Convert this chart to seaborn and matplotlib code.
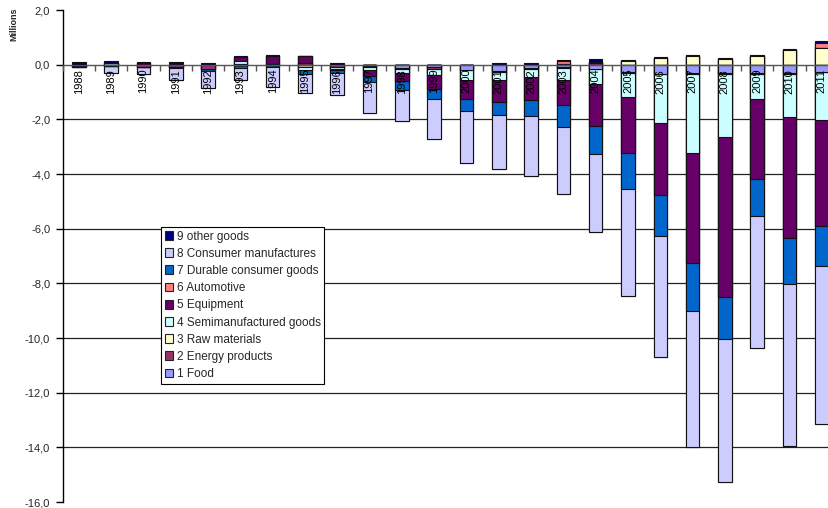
import numpy as np
import matplotlib
matplotlib.use("Agg")
import matplotlib.pyplot as plt
from matplotlib.patches import Patch
import seaborn as sns

years = [str(y) for y in range(1988, 2012)]

# Trade balance by product group, millions
food = [0.00, -0.03, -0.02, -0.02, -0.02, -0.02, -0.02, -0.03, -0.03, -0.05, -0.13, -0.10,
        -0.18, -0.22, -0.12, -0.10, -0.15, -0.27, -0.33, -0.32, -0.32, -0.32, -0.32, -0.25]
energy = [-0.05, -0.02, -0.08, -0.07, -0.15, 0.03, 0.02, 0.07, -0.05, -0.03, -0.04, -0.04,
          -0.03, -0.03, -0.03, -0.03, 0.05, -0.02, -0.02, -0.02, -0.02, -0.02, -0.02, -0.02]
raw_materials = [0.00, 0.00, 0.00, 0.00, 0.00, 0.01, 0.00, -0.05, 0.00, 0.00, 0.00, 0.00,
                 0.00, 0.00, 0.00, 0.02, 0.03, 0.15, 0.23, 0.30, 0.22, 0.32, 0.52, 0.60]
semimanufactured = [0.00, 0.05, 0.00, 0.00, 0.00, 0.10, 0.00, -0.12, -0.08, -0.12, -0.14, -0.25,
                    -0.36, -0.31, -0.30, -0.43, -0.55, -0.88, -1.80, -2.90, -2.32, -0.90, -1.56, -1.75]
equipment = [-0.05, 0.00, 0.05, 0.00, 0.00, 0.14, 0.30, 0.25, -0.05, -0.20, -0.30, -0.50,
             -0.70, -0.79, -0.85, -0.91, -1.53, -2.07, -2.62, -4.03, -5.85, -2.96, -4.43, -3.87]
automotive = [0.00, 0.00, 0.00, 0.00, 0.00, 0.00, 0.00, 0.00, 0.00, 0.00, 0.00, 0.00,
              0.00, 0.00, 0.00, 0.10, 0.00, 0.00, 0.00, 0.00, 0.00, 0.00, 0.00, 0.18]
durable = [0.00, 0.00, 0.00, -0.02, -0.07, -0.10, -0.08, -0.15, -0.10, -0.25, -0.30, -0.37,
           -0.41, -0.49, -0.58, -0.80, -1.03, -1.31, -1.50, -1.73, -1.54, -1.35, -1.71, -1.46]
consumer = [0.00, -0.24, -0.23, -0.44, -0.63, -0.44, -0.73, -0.68, -0.79, -1.10, -1.15, -1.46,
            -1.92, -1.99, -2.18, -2.45, -2.87, -3.90, -4.41, -5.00, -5.22, -4.80, -5.90, -5.80]
other = [0.09, 0.08, 0.05, 0.11, 0.07, 0.02, 0.02, 0.00, 0.05, 0.00, 0.00, 0.00,
         0.00, 0.07, 0.07, 0.06, 0.12, 0.03, 0.04, 0.04, 0.04, 0.03, 0.07, 0.10]

series_names = ["1 Food", "2 Energy products", "3 Raw materials", "4 Semimanufactured goods",
                "5 Equipment", "6 Automotive", "7 Durable consumer goods",
                "8 Consumer manufactures", "9 other goods"]
series_colors = ["#9999FF", "#993366", "#FFFFCC", "#CCFFFF", "#660066",
                 "#FF8080", "#0066CC", "#CCCCFF", "#000080"]
y_ticks = [2, 0, -2, -4, -6, -8, -10, -12, -14, -16]

sns.set_theme(style="white")
plt.rcParams["font.family"] = ["Liberation Sans", "DejaVu Sans"]

fig = plt.figure(figsize=(8.29, 5.08), dpi=100)
ax = fig.add_axes([0.0756, 0.0118, 0.9352, 0.9685])

values = np.array([food, energy, raw_materials, semimanufactured, equipment,
                   automotive, durable, consumer, other])
pos_cum = np.clip(values, 0, None).cumsum(axis=0)
neg_cum = np.clip(values, None, 0).cumsum(axis=0)

# Stacks are built by overdrawing cumulative totals, outermost layer first
for k in reversed(range(len(series_names))):
    for cum in (pos_cum[k], neg_cum[k]):
        sns.barplot(x=years, y=cum, order=years, color=series_colors[k], saturation=1,
                    width=0.42, edgecolor="#111111", linewidth=0.8, errorbar=None, ax=ax,
                    zorder=2)

# Horizontal gridlines behind the bars
for v in y_ticks:
    if v not in (0, 2, -16):
        ax.axhline(v, color="#222222", linewidth=0.9, zorder=0)

ax.set_axisbelow(False)
ax.set_xlim(-0.5, len(years) - 0.5)
ax.set_ylim(-16, 2)

for side in ("top", "right"):
    ax.spines[side].set_visible(False)
ax.spines["left"].set_color("black")
ax.spines["left"].set_linewidth(1.0)
ax.spines["bottom"].set_position(("data", 0))
ax.spines["bottom"].set_color("#555555")
ax.spines["bottom"].set_linewidth(1.0)
ax.spines["bottom"].set_zorder(3)

# Category boundaries get the tick marks; year names sit on top of the bars
ax.set_xticks(np.arange(-0.5, len(years), 1.0))
ax.set_xticklabels([])
ax.tick_params(axis="x", length=4, width=1, color="#555555", direction="out", bottom=True)
for i, yr in enumerate(years):
    ax.annotate(yr, xy=(i, 0), xytext=(0, -3), textcoords="offset points",
                rotation=90, ha="center", va="top", fontsize=8, color="black", zorder=6)

ax.set_yticks(y_ticks)
ax.set_yticklabels([f"{v:.1f}".replace(".", ",") for v in y_ticks], fontsize=8)
ax.tick_params(axis="y", length=5, width=1, color="black", direction="out", pad=4, left=True)
ax.set_xlabel("")
ax.set_ylabel("")

fig.text(14 / 829, 1 - 24 / 508, "Millions", rotation=90, fontweight="bold",
         ha="center", va="center", fontsize=6.5,
         family=["Liberation Sans Narrow", "Liberation Sans", "DejaVu Sans"])

handles = [Patch(facecolor=c, edgecolor="#222222", linewidth=0.8, label=n)
           for n, c in zip(series_names, series_colors)][::-1]
leg = fig.legend(handles=handles, loc="upper left",
                 bbox_to_anchor=(161 / 829, 1 - 227 / 508), fontsize=8.5,
                 frameon=True, fancybox=False, edgecolor="black", framealpha=1,
                 handlelength=0.75, handleheight=0.75, handletextpad=0.3,
                 labelspacing=0.44, borderpad=0.3, borderaxespad=0)
leg.get_frame().set_linewidth(0.8)

fig.savefig("out.png", dpi=100)
